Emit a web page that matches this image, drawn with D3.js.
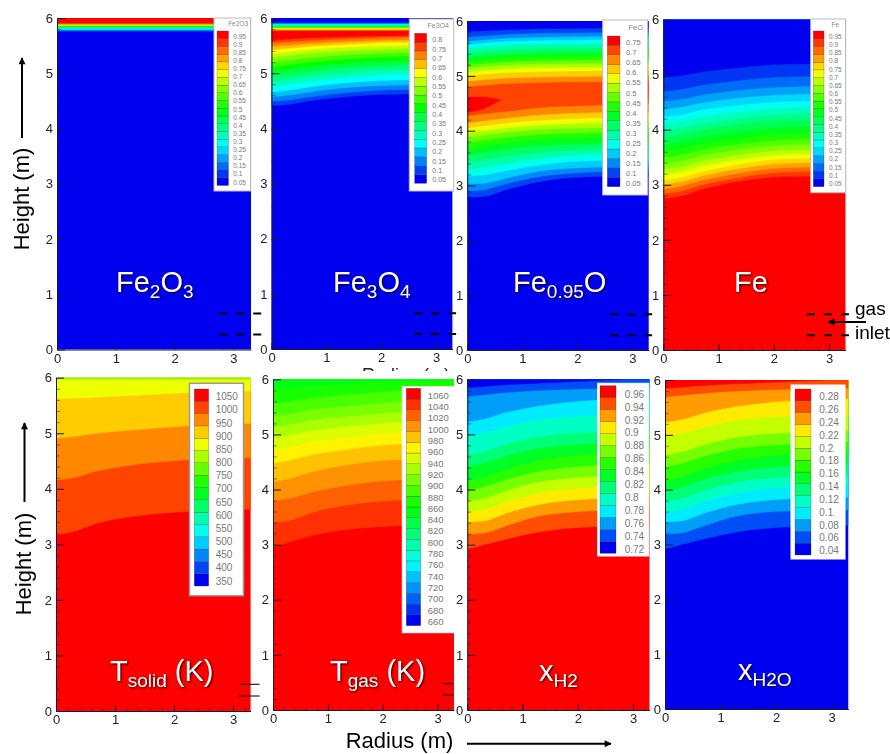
<!DOCTYPE html>
<html><head><meta charset="utf-8">
<script src="https://cdnjs.cloudflare.com/ajax/libs/d3/7.8.5/d3.min.js"></script>
<style>
html,body{margin:0;padding:0;background:#fff}
svg{display:block;filter:blur(0.35px)}
text{font-family:"Liberation Sans",Arial,sans-serif}
.title{fill:#fff;filter:drop-shadow(1px 1.5px 1px rgba(0,0,0,.8))}
.tick text{fill:#222}
</style></head><body><svg id="c" width="890" height="754"></svg>
<script>
// Radii (m) at which every contour's height (m) is read
const radii=[0,0.3,0.7,1.3,2.2,3.3];
const xTicks=[0,1,2,3], yTicks=[0,1,2,3,4,5,6];
const xMinor=[0,.2,.4,.6,.8,1,1.2,1.4,1.6,1.8,2,2.2,2.4,2.6,2.8,3,3.2];
const yMinor=[.2,.4,.6,.8,1.2,1.4,1.6,1.8,2.2,2.4,2.6,2.8,3.2,3.4,3.6,3.8,4.2,4.4,4.6,4.8,5.2,5.4,5.6,5.8];

// Fe2O3
const fe2o3Labels=["0.95","0.9","0.85","0.8","0.75","0.7","0.65","0.6","0.55","0.5","0.45","0.4","0.35","0.3","0.25","0.2","0.15","0.1","0.05"];
const fe2o3Bands=[0,1,2,3,4,5,6,7,8,9,10,11,12,13,14,15,16,17,18,19];
const fe2o3Contours=[5.76,5.77,5.78,5.79,5.80,5.81,5.82,5.83,5.84,5.85,5.86,5.865,5.87,5.875,5.88,5.885,5.89,5.90,5.91];

// Fe3O4
const fe3o4Labels=["0.8","0.75","0.7","0.65","0.6","0.55","0.5","0.45","0.4","0.35","0.3","0.25","0.2","0.15","0.1","0.05"];
const fe3o4Bands=[0,1,2,3,4,5,6,7,8,9,10,11,12,13,14,15,16,15,14,13,12,11,10,9,8,7,6,5,4,3,2,1,0];
const fe3o4Contours=[
[4.41,4.43,4.50,4.57,4.62,4.63],[4.49,4.51,4.57,4.64,4.70,4.71],[4.57,4.60,4.66,4.73,4.78,4.80],[4.66,4.69,4.75,4.82,4.87,4.89],
[4.76,4.79,4.85,4.91,4.97,4.98],[4.85,4.88,4.94,5.00,5.06,5.07],[4.95,4.98,5.03,5.09,5.14,5.16],[5.03,5.07,5.12,5.18,5.22,5.24],
[5.12,5.15,5.20,5.25,5.30,5.32],[5.20,5.24,5.28,5.33,5.37,5.39],[5.28,5.32,5.36,5.40,5.44,5.46],[5.35,5.39,5.43,5.47,5.50,5.52],
[5.42,5.45,5.49,5.52,5.56,5.57],[5.49,5.51,5.54,5.57,5.60,5.62],[5.55,5.57,5.59,5.62,5.65,5.66],[5.60,5.62,5.64,5.66,5.68,5.69],
5.77,5.78,5.79,5.80,5.81,5.82,5.83,5.84,5.85,5.86,5.87,5.88,5.89,5.90,5.91,5.92];

// FeO
const feoLabels=["0.75","0.7","0.65","0.6","0.55","0.5","0.45","0.4","0.35","0.3","0.25","0.2","0.15","0.1","0.05"];
const feoBands=[0,1,2,3,4,5,6,7,8,9,10,11,12,13,14,15,14,13,12,11,10,9,8,7,6,5,4,3,2,1,0];
const feoContours=[
[2.79,2.80,2.92,3.07,3.16,3.18],[2.90,2.92,3.03,3.16,3.24,3.26],[3.03,3.04,3.13,3.26,3.33,3.35],[3.17,3.19,3.27,3.37,3.45,3.46],
[3.30,3.33,3.40,3.49,3.56,3.57],[3.43,3.47,3.53,3.60,3.66,3.68],[3.55,3.60,3.66,3.72,3.76,3.78],[3.67,3.72,3.78,3.83,3.87,3.88],
[3.78,3.83,3.88,3.93,3.96,3.98],[3.88,3.92,3.97,4.02,4.05,4.07],[3.96,4.00,4.05,4.10,4.14,4.16],[4.05,4.09,4.14,4.19,4.23,4.25],
[4.14,4.18,4.23,4.29,4.33,4.36],[4.27,4.31,4.35,4.42,4.46,4.50],[4.33,4.40,4.60,4.70,4.70,4.70],[4.62,4.62,4.56,4.55,4.55,4.55],
[4.80,4.83,4.86,4.88,4.89,4.90],[4.90,4.93,4.96,4.98,4.99,5.00],[5.00,5.03,5.06,5.08,5.09,5.10],[5.07,5.10,5.13,5.15,5.16,5.17],
[5.14,5.17,5.20,5.22,5.23,5.24],[5.20,5.23,5.26,5.28,5.29,5.30],[5.27,5.30,5.33,5.35,5.36,5.37],[5.34,5.37,5.40,5.42,5.43,5.44],
[5.42,5.45,5.48,5.50,5.51,5.52],[5.50,5.53,5.56,5.58,5.59,5.60],[5.57,5.60,5.63,5.65,5.66,5.67],[5.63,5.66,5.69,5.71,5.72,5.73],
[5.71,5.73,5.76,5.78,5.79,5.80],[5.81,5.82,5.84,5.86,5.87,5.88]];

// Fe
const feLabels=["0.95","0.9","0.85","0.8","0.75","0.7","0.65","0.6","0.55","0.5","0.45","0.4","0.35","0.3","0.25","0.2","0.15","0.1","0.05"];
const feBands=[19,18,17,16,15,14,13,12,11,10,9,8,7,6,5,4,3,2,1,0];
const feContours=[
[2.75,2.79,2.92,3.05,3.15,3.16],[2.84,2.88,3.00,3.12,3.23,3.25],[2.92,2.97,3.08,3.20,3.31,3.33],[3.00,3.05,3.16,3.28,3.39,3.41],
[3.08,3.13,3.24,3.36,3.47,3.49],[3.18,3.23,3.34,3.45,3.55,3.57],[3.28,3.32,3.43,3.53,3.63,3.65],[3.39,3.43,3.53,3.63,3.72,3.74],
[3.50,3.54,3.64,3.73,3.82,3.84],[3.62,3.66,3.75,3.84,3.93,3.95],[3.74,3.78,3.87,3.96,4.05,4.07],[3.87,3.91,4.00,4.09,4.17,4.19],
[3.99,4.03,4.11,4.20,4.28,4.30],[4.12,4.16,4.24,4.32,4.40,4.42],[4.24,4.27,4.36,4.44,4.51,4.53],[4.37,4.41,4.49,4.57,4.64,4.66],
[4.52,4.55,4.63,4.71,4.78,4.80],[4.70,4.73,4.81,4.89,4.96,4.98],[4.95,4.98,5.05,5.12,5.19,5.20]];

// T solid
const tsolidLabels=["1050","1000","950","900","850","800","750","700","650","600","550","500","450","400","350"];
const tsolidBands=[15,14,13,12,11,10,9];
const tsolidContours=[
[3.17,3.23,3.38,3.50,3.59,3.63],[4.16,4.20,4.32,4.43,4.52,4.56],[4.91,4.94,5.00,5.06,5.13,5.18],[5.62,5.63,5.65,5.68,5.73,5.76],5.97,5.985];

// T gas
const tgasLabels=["1060","1040","1020","1000","980","960","940","920","900","880","860","840","820","800","780","760","740","720","700","680","660"];
const tgasBands=[21,20,19,18,17,16,15,14,13,12,11,10];
const tgasContours=[
[2.96,3.05,3.16,3.27,3.34,3.37],[3.41,3.44,3.58,3.71,3.80,3.83],[3.79,3.84,3.95,4.07,4.17,4.20],[4.14,4.20,4.32,4.44,4.54,4.57],
[4.48,4.53,4.63,4.72,4.82,4.85],[4.72,4.77,4.86,4.94,5.03,5.06],[4.94,4.99,5.07,5.14,5.22,5.25],[5.14,5.18,5.26,5.32,5.40,5.43],
[5.34,5.38,5.45,5.51,5.59,5.62],[5.56,5.60,5.66,5.72,5.79,5.82],[5.83,5.85,5.89,5.92,5.96,5.97]];

// x H2
const xh2Labels=["0.96","0.94","0.92","0.9","0.88","0.86","0.84","0.82","0.8","0.78","0.76","0.74","0.72"];
const xh2Bands=[13,12,11,10,9,8,7,6,5,4,3,2,1,0];
const xh2Contours=[
[2.92,3.00,3.10,3.23,3.32,3.35],[3.19,3.21,3.34,3.52,3.61,3.65],[3.41,3.43,3.57,3.73,3.83,3.87],[3.60,3.64,3.78,3.94,4.04,4.08],
[3.79,3.84,3.98,4.14,4.23,4.27],[3.99,4.05,4.18,4.33,4.43,4.47],[4.17,4.23,4.37,4.53,4.64,4.68],[4.42,4.48,4.61,4.75,4.83,4.87],
[4.63,4.69,4.82,4.96,5.04,5.08],[4.98,5.03,5.14,5.27,5.34,5.37],[5.23,5.28,5.40,5.52,5.62,5.66],[5.69,5.72,5.76,5.80,5.83,5.85],
[5.85,5.87,5.90,5.93,5.97,6.02]];

// x H2O
const xh2oLabels=["0.28","0.26","0.24","0.22","0.2","0.18","0.16","0.14","0.12","0.1","0.08","0.06","0.04"];
const xh2oBands=[0,1,2,3,4,5,6,7,8,9,10,11,12,13];
const xh2oContours=[
[2.92,3.00,3.10,3.23,3.32,3.35],[3.19,3.21,3.34,3.52,3.61,3.63],[3.41,3.43,3.57,3.73,3.83,3.86],[3.60,3.64,3.78,3.94,4.04,4.07],
[3.79,3.84,3.98,4.14,4.23,4.27],[3.99,4.05,4.18,4.33,4.43,4.47],[4.17,4.23,4.37,4.53,4.64,4.68],[4.42,4.48,4.61,4.75,4.83,4.87],
[4.63,4.69,4.82,4.96,5.04,5.08],[4.98,5.03,5.14,5.27,5.34,5.37],[5.23,5.28,5.40,5.52,5.62,5.66],[5.69,5.72,5.76,5.80,5.83,5.85],
[5.85,5.87,5.90,5.93,5.97,6.02]];

// Gas-inlet edges (height, m) drawn across the panels
const inletDashed=[0.65,0.27];
const inletSolid=[0.48,0.27];

const rainbow=d3.scaleLinear().domain([0,.25,.5,.75,1]).range(["#0000f0","#00ffff","#00ff00","#ffff00","#ff0000"]);

const panels=[
{id:"a",labels:fe2o3Labels,bands:fe2o3Bands,contours:fe2o3Contours,x0:57,x1:251,yb:349.5,yt:18,
 leg:{box:[214,18,36.7,173],bar:[217,31,11.5,154.5],lx:233.3,ly:[36.3,182.3],fs:6.5,title:"Fe2O3",tx:248,ty:24},fill:"#fff",stroke:"#bbb",inlet:[2.76,3.48]},
{id:"b",labels:fe3o4Labels,bands:fe3o4Bands,contours:fe3o4Contours,x0:271.5,x1:452.5,yb:349,yt:18,
 leg:{box:[409.3,19,44.4,172],bar:[414.7,33.3,12,150],lx:432.3,ly:[40,180],fs:7,title:"Fe3O4",tx:449,ty:26},stroke:"#bbb",inlet:[2.6,3.37]},
{id:"c",labels:feoLabels,bands:feoBands,contours:feoContours,x0:467.3,x1:648.8,yb:350,yt:21,
 leg:{box:[602.7,20,45,175],bar:[607.3,36,12.7,150.7],lx:626,ly:[42.7,183.3],fs:7.5,title:"FeO",tx:643,ty:27.7},stroke:"#bbb",inlet:[2.6,3.36]},
{id:"d",labels:feLabels,bands:feBands,contours:feContours,x0:663.3,x1:845.6,yb:350,yt:19.5,
 leg:{box:[810.7,19,35,173.7],bar:[813.3,31,10.7,155.7],lx:829,ly:[36.7,183.7],fs:6.5,title:"Fe",tx:839,ty:24.3},stroke:"#bbb",inlet:[2.6,3.38]},
{id:"e",labels:tsolidLabels,bands:tsolidBands,contours:tsolidContours,x0:56,x1:250.7,yb:711,yt:377.7,
 leg:{box:[189.5,383.3,54,212.4],bar:[194.3,389,14.4,197],lx:215.7,ly:[396.7,581],fs:10,sw:1.5},stroke:"#999",solid:[3.1,3.45]},
{id:"f",labels:tgasLabels,bands:tgasBands,contours:tgasContours,x0:273,x1:454,yb:710,yt:379.3,
 leg:{box:[402.3,386.7,51.7,246],bar:[406.3,388.3,14.4,237.4],lx:427.7,ly:[395.3,621.7],fs:9.5},stroke:"#fff",solid:[3.1,3.3]},
{id:"g",labels:xh2Labels,bands:xh2Bands,contours:xh2Contours,x0:467.3,x1:649.6,yb:710,yt:379.3,
 leg:{box:[597.7,383.3,51,172.7],bar:[600,385.7,16,167.6],lx:624.7,ly:[394.3,549],fs:10},stroke:"#fff"},
{id:"h",labels:xh2oLabels,bands:xh2oBands,contours:xh2oContours,x0:665,x1:848.4,yb:709,yt:380,
 leg:{box:[791,385,54,174],bar:[795,389,16,166],lx:819.3,ly:[396.7,550.7],fs:10},stroke:"#fff"}
];

const svg=d3.select("#c");
const defs=svg.append("defs");

panels.forEach(p=>{
  const x=d3.scaleLinear().domain([0,3.3]).range([p.x0,p.x1]);
  const y=d3.scaleLinear().domain([0,6]).range([p.yb,p.yt]);
  const n=p.labels.length;
  const g=svg.append("g");
  defs.append("clipPath").attr("id","clip-"+p.id).append("rect")
    .attr("x",p.x0).attr("y",p.yt).attr("width",p.x1-p.x0).attr("height",p.yb-p.yt);
  const area=d3.area().x((d,i)=>x(radii[i])).y0(y(6)).y1(d=>y(d)).curve(d3.curveMonotoneX);
  const layers=g.append("g").attr("clip-path",`url(#clip-${p.id})`);
  const rows=[radii.map(()=>0)].concat(p.contours.map(c=>Array.isArray(c)?c:radii.map(()=>c)));
  layers.selectAll("path").data(rows).join("path")
    .attr("d",d=>area(d)).attr("fill",(d,i)=>rainbow(p.bands[i]/n))
    .attr("stroke",(d,i)=>rainbow(p.bands[i]/n)).attr("stroke-width",.4);

  // axes: ticks point inward
  const xa=g.append("g").attr("transform",`translate(0,${p.yb})`)
    .call(d3.axisBottom(x).tickValues(xTicks).tickFormat(d3.format("d")).tickSizeInner(-6).tickSizeOuter(0).tickPadding(4));
  const ya=g.append("g").attr("transform",`translate(${p.x0},0)`)
    .call(d3.axisLeft(y).tickValues(yTicks).tickFormat(d3.format("d")).tickSizeInner(-8).tickSizeOuter(0).tickPadding(4));
  const xm=g.append("g").attr("transform",`translate(0,${p.yb})`)
    .call(d3.axisBottom(x).tickValues(xMinor).tickFormat("").tickSizeInner(-3).tickSizeOuter(0));
  const ym=g.append("g").attr("transform",`translate(${p.x0},0)`)
    .call(d3.axisLeft(y).tickValues(yMinor).tickFormat("").tickSizeInner(-4).tickSizeOuter(0));
  [xa,ya].forEach(s=>{s.attr("font-size",13).attr("font-family",null);s.selectAll("path,line").attr("stroke","#1a1a3a").attr("stroke-width",1)});
  [xm,ym].forEach(s=>{s.select("path").remove();s.selectAll("line").attr("stroke","#1a1a3a").attr("stroke-width",.6).attr("stroke-opacity",.75)});

  // legend
  const l=p.leg;
  const lg=g.append("g");
  lg.append("rect").attr("x",l.box[0]).attr("y",l.box[1]).attr("width",l.box[2]).attr("height",l.box[3])
    .attr("fill","#fff").attr("stroke",p.stroke).attr("stroke-width",l.sw||1);
  const bandIdx=d3.range(n+1);
  const by=d3.scaleBand().domain(bandIdx.slice().reverse()).range([l.bar[1],l.bar[1]+l.bar[3]]);
  lg.selectAll(".b").data(bandIdx).join("rect").attr("class","b")
    .attr("x",l.bar[0]).attr("width",l.bar[2]).attr("y",d=>by(d)).attr("height",by.bandwidth())
    .attr("fill",d=>rainbow(d/n)).attr("stroke","#333").attr("stroke-width",.25);
  const ly=d3.scaleLinear().domain([0,n-1]).range(l.ly);
  lg.selectAll(".l").data(p.labels).join("text").attr("class","l")
    .attr("x",l.lx).attr("y",(d,i)=>ly(i)).attr("dy",".35em").attr("font-size",l.fs).attr("fill","#777").text(d=>d);
  if(l.title) lg.append("text").attr("x",l.tx).attr("y",l.ty).attr("dy",".35em").attr("text-anchor","end")
    .attr("font-size",l.fs).attr("fill","#888").text(l.title);

  // inlet marks
  if(p.inlet) g.selectAll(".i").data(inletDashed).join("line").attr("class","i")
    .attr("x1",x(p.inlet[0])).attr("x2",x(p.inlet[1])).attr("y1",d=>y(d)).attr("y2",d=>y(d))
    .attr("stroke","#000").attr("stroke-width",2).attr("stroke-dasharray","8 9");
  if(p.solid) g.selectAll(".s").data(inletSolid).join("line").attr("class","s")
    .attr("x1",x(p.solid[0])).attr("x2",x(p.solid[1])).attr("y1",d=>y(d)).attr("y2",d=>y(d))
    .attr("stroke","#222").attr("stroke-width",1.2);
});

// white panel titles
function title(xp,yp,parts){
  const t=svg.append("text").attr("class","title").attr("x",xp).attr("y",yp).attr("font-size",29);
  let shift=0;
  parts.forEach(([s,sub])=>{
    const dy=(sub?6:0)-shift; shift=sub?6:0;
    t.append("tspan").attr("dy",dy).attr("font-size",sub?19:29).attr("xml:space","preserve").text(s);
  });
}
title(116,292,[["Fe"],["2",1],["O"],["3",1]]);
title(333,292,[["Fe"],["3",1],["O"],["4",1]]);
title(513,292,[["Fe"],["0.95",1],["O"]]);
title(734,292,[["Fe"]]);
title(110,681,[["T"],["solid",1],[" (K)"]]);
title(330,681,[["T"],["gas",1],[" (K)"]]);
title(539,681,[["x"],["H2",1]]);
title(738,680,[["x"],["H2O",1]]);

// outer annotations
defs.append("marker").attr("id","head").attr("viewBox","0 0 10 10").attr("refX",9).attr("refY",5)
  .attr("markerWidth",9).attr("markerHeight",7).attr("markerUnits","userSpaceOnUse").attr("orient","auto")
  .append("path").attr("d","M0,0L10,5L0,10z").attr("fill","#000");
function arrow(x1,y1,x2,y2){svg.append("line").attr("x1",x1).attr("y1",y1).attr("x2",x2).attr("y2",y2)
  .attr("stroke","#000").attr("stroke-width",2).attr("marker-end","url(#head)");}
arrow(22,138,22,58);
arrow(24.5,502,24.5,423);
arrow(467,743.7,611,743.7);
arrow(866,322,828,322);
const big=(s,x,y,r)=>svg.append("text").attr("font-size",22).attr("fill","#000")
  .attr("transform",`translate(${x},${y})`+(r?" rotate(-90)":"")).attr("text-anchor","middle").text(s);
big("Height (m)",29,199,true);
big("Height (m)",31,564,true);
big("Radius (m)",399.5,748);
svg.append("text").attr("x",855).attr("y",315).attr("font-size",19).text("gas");
svg.append("text").attr("x",855).attr("y",339).attr("font-size",19).text("inlet");
defs.append("clipPath").attr("id","cut").append("rect").attr("x",350).attr("y",360).attr("width",110).attr("height",11);
svg.append("g").attr("clip-path","url(#cut)").append("text").attr("x",362).attr("y",381).attr("font-size",18).attr("fill","#222").text("Radius (m)");
</script></body></html>
